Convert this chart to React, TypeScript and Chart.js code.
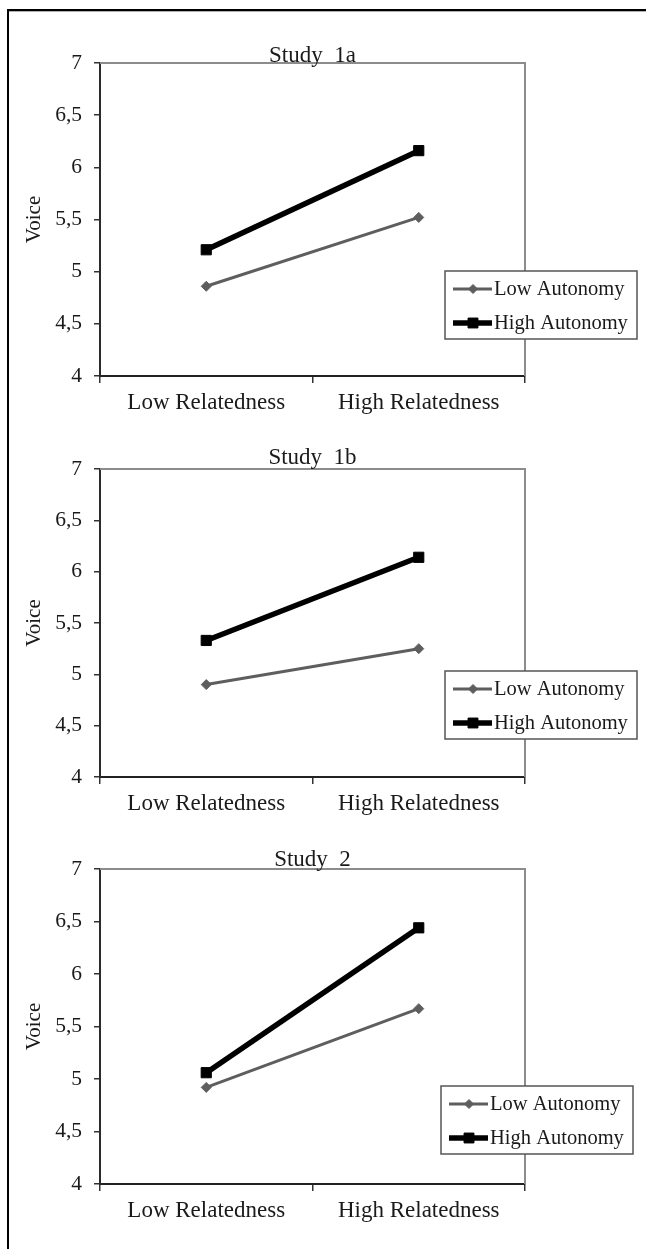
import React, { useEffect, useRef } from 'react';
import { Chart, registerables } from 'chart.js';

Chart.register(...registerables);

// ---- data ----
const categories = ['Low Relatedness', 'High Relatedness'];
const seriesNames = ['Low Autonomy', 'High Autonomy'];
const yTicks = [4, 4.5, 5, 5.5, 6, 6.5, 7];
const yAxisTitle = 'Voice';
const panelTitles = ['Study  1a', 'Study  1b', 'Study  2'];
const study1aLow = [4.86, 5.52];
const study1aHigh = [5.21, 6.16];
const study1bLow = [4.9, 5.25];
const study1bHigh = [5.33, 6.14];
const study2Low = [4.92, 5.67];
const study2High = [5.06, 6.44];

const panelLow = [study1aLow, study1bLow, study2Low];
const panelHigh = [study1aHigh, study1bHigh, study2High];

// ---- layout (page px) ----
const PAD_TOP = 43;
const X_AXIS_H = 44;
const Y_AXIS_W = 92;
const CANVAS_LEFT = 8;
const CANVAS_W = 638;
const PAD_RIGHT = 121;
const panels = [
  { plotTop: 63, plotH: 313, titleGap: 9, legend: { dx: 345, dy: 208 } },
  { plotTop: 469, plotH: 308, titleGap: 13, legend: { dx: 345, dy: 202 } },
  { plotTop: 869, plotH: 315, titleGap: 11, legend: { dx: 341, dy: 217 } },
];

const FONT = '"Liberation Serif", "Times New Roman", serif';
const TEXT = '#1a1a1a';

const framePlugin = {
  id: 'frame',
  beforeDatasetsDraw(chart: any) {
    const { ctx, chartArea } = chart;
    ctx.save();
    ctx.strokeStyle = '#8c8c8c';
    ctx.lineWidth = 2;
    ctx.beginPath();
    ctx.moveTo(chartArea.left, chartArea.top);
    ctx.lineTo(chartArea.right, chartArea.top);
    ctx.lineTo(chartArea.right, chartArea.bottom);
    ctx.stroke();
    ctx.restore();
  },
};

function drawMarker(ctx: any, style: string, x: number, y: number, r: number) {
  ctx.beginPath();
  if (style === 'rect') {
    const s = r * Math.SQRT1_2;
    ctx.rect(x - s, y - s, 2 * s, 2 * s);
  } else {
    ctx.moveTo(x - r, y);
    ctx.lineTo(x, y - r);
    ctx.lineTo(x + r, y);
    ctx.lineTo(x, y + r);
    ctx.closePath();
  }
  ctx.fill();
  ctx.stroke();
}

const annotPlugin = {
  id: 'annot',
  afterDraw(chart: any, _args: any, opts: any) {
    const { ctx, chartArea } = chart;
    ctx.save();
    // title
    ctx.fillStyle = TEXT;
    ctx.font = `23px ${FONT}`;
    ctx.textAlign = 'center';
    ctx.textBaseline = 'alphabetic';
    ctx.fillText(opts.title, (chartArea.left + chartArea.right) / 2, chartArea.top - opts.titleGap + 8);
    // legend
    const lx = chartArea.left + opts.legend.dx;
    const ly = chartArea.top + opts.legend.dy;
    const w = 192;
    const h = 68;
    ctx.fillStyle = '#ffffff';
    ctx.fillRect(lx, ly, w, h);
    ctx.strokeStyle = '#555555';
    ctx.lineWidth = 1.5;
    ctx.strokeRect(lx, ly, w, h);
    const rows = [18, 52];
    chart.data.datasets.forEach((ds: any, i: number) => {
      const cy = ly + rows[i];
      ctx.strokeStyle = ds.borderColor;
      ctx.lineWidth = ds.borderWidth;
      ctx.beginPath();
      ctx.moveTo(lx + 8, cy);
      ctx.lineTo(lx + 47, cy);
      ctx.stroke();
      ctx.fillStyle = ds.pointBackgroundColor;
      ctx.strokeStyle = ds.pointBorderColor;
      ctx.lineWidth = 1;
      drawMarker(ctx, ds.pointStyle, lx + 28, cy, ds.pointStyle === 'rect' ? 7 : 4.5);
      ctx.fillStyle = TEXT;
      ctx.font = `20.5px ${FONT}`;
      ctx.textAlign = 'left';
      ctx.textBaseline = 'middle';
      ctx.fillText(ds.label, lx + 49, cy + 1);
    });
    ctx.restore();
  },
};

function Panel({ index }: { index: number }) {
  const ref = useRef<HTMLCanvasElement>(null);
  const p = panels[index];
  const h = PAD_TOP + p.plotH + X_AXIS_H;
  useEffect(() => {
    if (!ref.current) return;
    const chart = new Chart(ref.current, {
      type: 'line',
      data: {
        labels: categories,
        datasets: [
          {
            label: seriesNames[0],
            data: panelLow[index],
            borderColor: '#5e5e5e',
            backgroundColor: '#5e5e5e',
            borderWidth: 3,
            pointStyle: 'rectRot',
            pointRadius: 5,
            pointBackgroundColor: '#5e5e5e',
            pointBorderColor: '#5e5e5e',
            pointBorderWidth: 1,
          },
          {
            label: seriesNames[1],
            data: panelHigh[index],
            borderColor: '#000000',
            backgroundColor: '#000000',
            borderWidth: 5.5,
            pointStyle: 'rect',
            pointRadius: 7.2,
            pointBackgroundColor: '#000000',
            pointBorderColor: '#000000',
            pointBorderWidth: 1,
          },
        ],
      },
      options: {
        animation: false,
        responsive: false,
        maintainAspectRatio: false,
        devicePixelRatio: 1,
        layout: { padding: { top: PAD_TOP, right: PAD_RIGHT, bottom: 0, left: 0 } },
        plugins: {
          legend: { display: false },
          title: { display: false },
          tooltip: { enabled: false },
          annot: { title: panelTitles[index], titleGap: p.titleGap, legend: p.legend },
        } as any,
        scales: {
          x: {
            type: 'category',
            offset: true,
            afterFit: (s: any) => {
              s.height = X_AXIS_H;
            },
            grid: {
              display: true,
              offset: true,
              drawOnChartArea: false,
              drawTicks: true,
              tickLength: 7,
              color: '#333333',
              lineWidth: 1.5,
            },
            border: { display: true, color: '#222222', width: 2 },
            ticks: {
              color: TEXT,
              font: { family: FONT, size: 23 },
              padding: 6,
              maxRotation: 0,
              autoSkip: false,
            },
          },
          y: {
            min: 4,
            max: 7,
            afterFit: (s: any) => {
              s.width = Y_AXIS_W;
            },
            afterBuildTicks: (axis: any) => {
              axis.ticks = yTicks.map((v) => ({ value: v }));
            },
            grid: {
              display: true,
              drawOnChartArea: false,
              drawTicks: true,
              tickLength: 6,
              color: '#333333',
              lineWidth: 1.5,
            },
            border: { display: true, color: '#2a2a2a', width: 2 },
            ticks: {
              color: TEXT,
              font: { family: FONT, size: 21.5 },
              padding: 12,
              callback: (v: any) => String(v).replace('.', ','),
            },
            title: {
              display: true,
              text: yAxisTitle,
              color: TEXT,
              font: { family: FONT, size: 21 },
              padding: { top: 14, bottom: 0 },
            },
          },
        },
      },
      plugins: [framePlugin, annotPlugin],
    });
    return () => chart.destroy();
  }, [index]);
  return (
    <canvas
      ref={ref}
      width={CANVAS_W}
      height={h}
      style={{
        position: 'absolute',
        left: CANVAS_LEFT,
        top: p.plotTop - PAD_TOP,
        width: CANVAS_W,
        height: h,
      }}
    />
  );
}

export default function App() {
  return (
    <div
      style={{
        position: 'absolute',
        left: 0,
        top: 0,
        width: 646,
        height: 1249,
        overflow: 'hidden',
        background: '#fff',
      }}
    >
      <div
        style={{
          position: 'absolute',
          left: 7,
          top: 9,
          width: 639,
          height: 1240,
          borderLeft: '2px solid #000',
          borderTop: '2px solid #000',
          boxSizing: 'border-box',
        }}
      />
      <div
        style={{
          position: 'absolute',
          left: 9,
          top: 11,
          width: 637,
          height: 1,
          background: '#b0b0b0',
        }}
      />
      {panels.map((_, i) => (
        <Panel key={i} index={i} />
      ))}
    </div>
  );
}
